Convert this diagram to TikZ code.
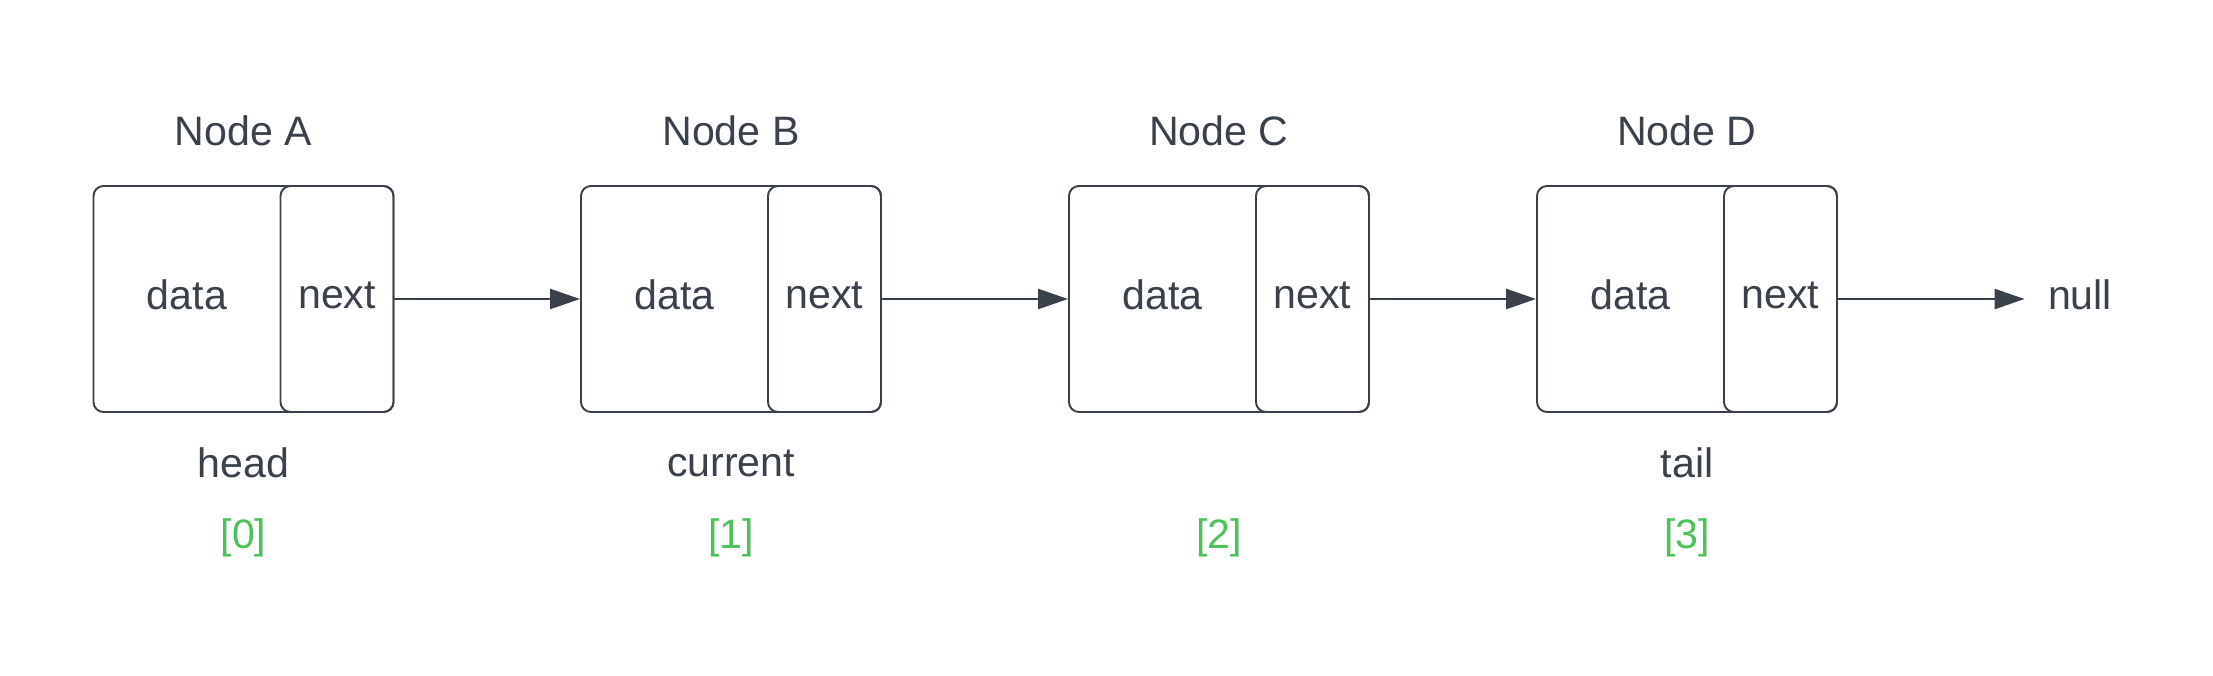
\documentclass[tikz,border=0pt]{standalone}
\usepackage{fontspec}
\setmainfont{Liberation Sans}
\usetikzlibrary{arrows.meta}
\definecolor{ink}{HTML}{3A414A}
\definecolor{idxgreen}{HTML}{4CC35A}

\begin{document}
\begin{tikzpicture}[
  cell/.style={draw=ink, line width=0.55pt, rounded corners=0.1cm, minimum height=2.26cm, inner sep=0pt},
  txt/.style={text=ink, font=\fontsize{11.7}{14}\selectfont},
  idx/.style={text=idxgreen, font=\fontsize{11.7}{14}\selectfont},
  link/.style={draw=ink, line width=0.7pt, -{Triangle[length=0.3cm,width=0.2cm]}}
]
\useasboundingbox (0,0) rectangle (22.13,6.75);
\foreach \name/\x/\title/\role/\pos in {A/2.435/Node A/head/0, B/7.31/Node B/current/1, C/12.19/Node C//2, D/16.87/Node D/tail/3}{
  \node[cell, minimum width=3.0cm] (\name) at (\x,3.76) {};
  \node[cell, minimum width=1.13cm, anchor=east] (\name-next) at (\name.east) {};
  \node[txt] (\name-ptr) at ([yshift=0.4mm]\name-next.center) {next};
  \node[txt] (\name-data) at ([xshift=-5.65mm,yshift=0.4mm]\name.center) {data};
  \node[txt] (\name-title) at (\x,5.44) {\title};
  \node[txt] (\name-role) at (\x,2.12) {\role};
  \node[idx] (\name-idx) at (\x,1.37) {[\pos]};
}
\draw[link] (A-next.east) -- (B.west);
\draw[link] (B-next.east) -- (C.west);
\draw[link] (C-next.east) -- (D.west);
\node[txt] (null) at (20.80,3.80) {null};
\draw[link, shorten >=0.11cm] (D-next.east) -- (D-next.east -| null.west);
\end{tikzpicture}
\end{document}
